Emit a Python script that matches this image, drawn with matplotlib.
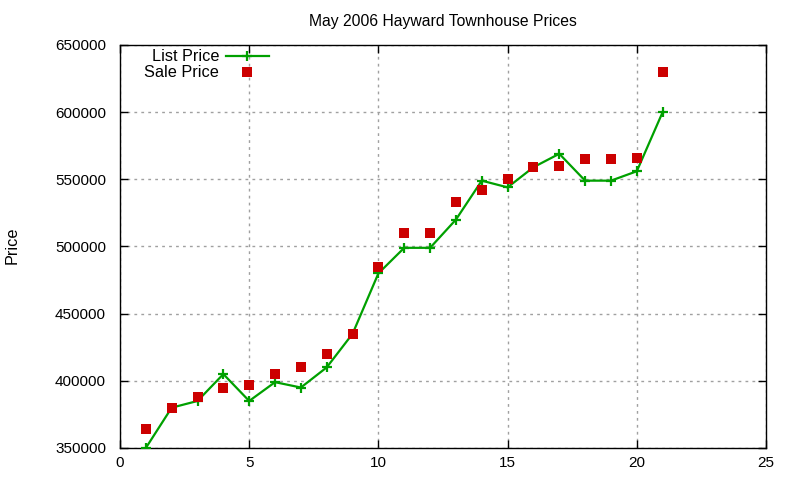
import matplotlib
matplotlib.use("Agg")
import matplotlib.pyplot as plt

plt.rcParams['font.family'] = ['Liberation Sans', 'DejaVu Sans']
plt.rcParams['font.size'] = 11.7

# house index along x
houses = list(range(1, 22))
list_price = [350000, 380000, 385000, 405000, 385000, 399000, 395000, 410000,
              435000, 480000, 499000, 499000, 520000, 549000, 544000, 559000,
              569000, 549000, 549000, 556000, 600000]
sale_price = [364000, 380000, 388000, 395000, 397000, 405000, 410000, 420000,
              435000, 485000, 510000, 510000, 533000, 542000, 550000, 559000,
              560000, 565000, 565000, 566000, 630000]

x_ticks = [0, 5, 10, 15, 20, 25]
y_ticks = [350000, 400000, 450000, 500000, 550000, 600000, 650000]

fig = plt.figure(figsize=(8, 4.8), dpi=100)
ax = fig.add_axes([0.15, 0.0667, 0.8075, 0.8396])

ax.plot(houses, list_price, color='#00a000', lw=1.6, marker='+', ms=7,
        mew=1.6, label='List Price', zorder=3)
ax.plot(houses, sale_price, ls='none', color='#cc0000', marker='s', ms=6.5,
        mew=0, label='Sale Price', zorder=4)

ax.set_xlim(0, 25)
ax.set_ylim(350000, 650000)
ax.set_xticks(x_ticks)
ax.set_yticks(y_ticks)
ax.ticklabel_format(axis='y', style='plain', useOffset=False)
ax.tick_params(direction='in', top=True, right=True, length=6, width=1,
               labelsize=11)
ax.tick_params(axis='y', pad=10)
ax.tick_params(axis='x', pad=6)
ax.grid(True, ls=(0, (2, 3)), color='#a0a0a0', lw=1)
ax.set_axisbelow(True)
for s in ax.spines.values():
    s.set_linewidth(1)

ax.set_title('May 2006 Hayward Townhouse Prices', fontsize=11.3, pad=14)
fig.text(0.015, 0.49, 'Price', rotation=90, ha='center', va='center')

ax.legend(loc='upper left', frameon=False, markerfirst=False,
          bbox_to_anchor=(0.021, 1.015), handlelength=2.6, borderpad=0.15,
          labelspacing=0.05, handletextpad=0.45)

fig.savefig('out.png', dpi=100)
